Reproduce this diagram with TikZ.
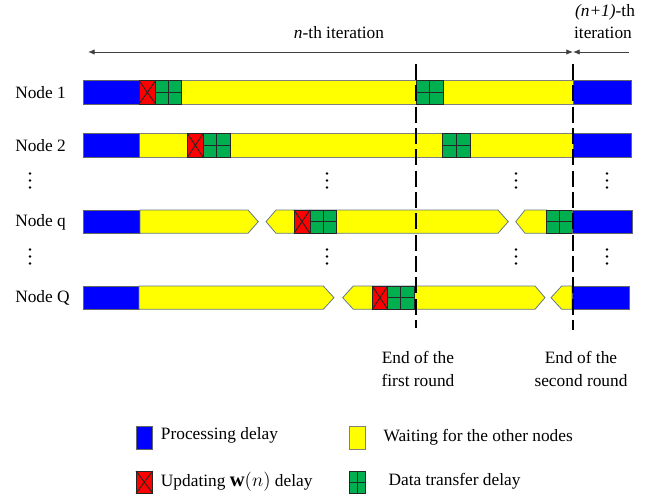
\documentclass[tikz,border=0pt]{standalone}
\usepackage{fontspec}
\setmainfont{Liberation Serif}
\usetikzlibrary{arrows.meta}
\definecolor{pblue}{RGB}{0,0,255}
\definecolor{pyellow}{RGB}{255,255,0}
\definecolor{pred}{RGB}{255,0,0}
\definecolor{pgreen}{RGB}{0,176,80}
\definecolor{pedge}{RGB}{100,120,140}
\newcommand{\DTblock}[4]{%
  \filldraw[dtstyle] (#1,#3) rectangle (#2,#4);
  \draw[blockline] ({(#1+#2)/2},#3) -- ({(#1+#2)/2},#4);
  \draw[blockline] (#1,{(#3+#4)/2}) -- (#2,{(#3+#4)/2});
}
\newcommand{\UPblock}[4]{%
  \filldraw[upstyle] (#1,#3) rectangle (#2,#4);
  \draw[blockline] (#1,#3) -- (#2,#4) (#1,#4) -- (#2,#3);
}
\tikzset{
  bluebar/.style={fill=pblue, draw=black!60, line width=0.6pt},
  ybar/.style={fill=pyellow, draw=black!50, line width=0.6pt},
  yarrow/.style={fill=pyellow, draw=pedge, line width=0.6pt},
  dtstyle/.style={fill=pgreen, draw=black!85, line width=0.7pt},
  upstyle/.style={fill=pred, draw=black!85, line width=0.7pt},
  blockline/.style={draw=black!85, line width=0.7pt},
  roundline/.style={draw=black, line width=1.3pt, dash pattern=on 12pt off 4pt},
  lbl/.style={inner sep=0pt, font=\fontsize{13}{17}\selectfont},
  iterarrow/.style={draw=black!75, line width=0.6pt},
  dotm/.style={fill=black}
}
\begin{document}
\begin{tikzpicture}[x=0.75pt,y=-0.75pt]
\useasboundingbox (0,0) rectangle (657,496);

% ---- Row 1 ----
\filldraw[ybar] (139,80.7) rectangle (573.3,104);
\filldraw[bluebar] (83,80.7) rectangle (139,104);
\UPblock{139}{155.7}{80.7}{104}
\DTblock{155.7}{181.7}{80.7}{104}
\DTblock{416}{443.3}{80.7}{104}
\filldraw[bluebar] (573.3,80.7) rectangle (631,104);

% ---- Row 2 ----
\filldraw[ybar] (139,133.3) rectangle (573.3,157.3);
\filldraw[bluebar] (83,133.3) rectangle (139,157.3);
\UPblock{187.3}{203.3}{133.3}{157.3}
\DTblock{203.3}{230}{133.3}{157.3}
\DTblock{442.7}{470}{133.3}{157.3}
\filldraw[bluebar] (573.3,133.3) rectangle (631,157.3);

% ---- Row q ----
\filldraw[bluebar] (83,210) rectangle (140,233.3);
\filldraw[yarrow] (140,210) -- (248,210) -- (258.3,221.65) -- (248,233.3) -- (140,233.3) -- cycle;
\filldraw[yarrow] (266,221.65) -- (276,210) -- (498,210) -- (508.3,221.65) -- (498,233.3) -- (276,233.3) -- cycle;
\UPblock{294}{310}{210}{233.3}
\DTblock{310}{336.7}{210}{233.3}
\filldraw[yarrow] (515.7,221.65) -- (525,210) -- (546.7,210) -- (546.7,233.3) -- (525,233.3) -- cycle;
\DTblock{546.7}{572.7}{210}{233.3}
\filldraw[bluebar] (572.7,210) rectangle (632.7,233.3);

% ---- Row Q ----
\filldraw[bluebar] (83,286) rectangle (139,309.3);
\filldraw[yarrow] (139,286) -- (323.3,286) -- (334,297.65) -- (323.3,309.3) -- (139,309.3) -- cycle;
\filldraw[yarrow] (342.7,297.65) -- (353.3,286) -- (535,286) -- (545,297.65) -- (535,309.3) -- (353.3,309.3) -- cycle;
\UPblock{372.3}{387.7}{286}{309.3}
\DTblock{387.7}{414}{286}{309.3}
\filldraw[yarrow] (551,297.65) -- (561.7,286) -- (572,286) -- (572,309.3) -- (561.7,309.3) -- cycle;
\filldraw[bluebar] (572,286) rectangle (629.3,309.3);

% ---- round boundaries ----
\coordinate (r1t) at (416,64);
\coordinate (r1b) at (416,328);
\coordinate (r2t) at (573,64);
\coordinate (r2b) at (573,330);
\draw[roundline] (r1t) -- (r1b);
\draw[roundline] (r2t) -- (r2b);

% ---- iteration arrows ----
\coordinate (aL) at (88,52);
\coordinate (aM) at (573,52);
\coordinate (aR) at (629,52);
\draw[iterarrow, {Latex[length=5pt,width=4pt]}-{Latex[length=5pt,width=4pt]}] (aL) -- (aM);
\draw[iterarrow, {Latex[length=5pt,width=4pt]}-] (aM) -- (aR);

% ---- dots ----
\foreach \dx in {30,327,516,607}{
  \foreach \dy in {173.5,180.5,187.5,249.5,256.5,263.5}{
    \fill[dotm] (\dx,\dy) circle (1.1pt);
  }
}

% ---- labels ----
\node[lbl, anchor=west] (n1) at (15,92.5) {Node 1};
\node[lbl, anchor=west] (n2) at (15,145.5) {Node 2};
\node[lbl, anchor=west] (nq) at (15,222) {Node q};
\node[lbl, anchor=west] (nQ) at (15,298) {Node Q};

\node[lbl] (itn) at (339,33) {\textit{n}-th iteration};
\node[lbl] (itn1a) at (605,12) {\textit{(n+1)}-th};
\node[lbl] (itn1b) at (603,33) {iteration};

\node[lbl, align=center] (end1) at (418,369) {End of the\\first round};
\node[lbl, align=center] (end2) at (581,369) {End of the\\second round};

% ---- legend ----
\filldraw[bluebar] (136,426) rectangle (152.7,449);
\node[lbl, anchor=west] (lg1) at (160.7,435.5) {Processing delay};
\filldraw[ybar] (349,426) rectangle (365.7,449);
\node[lbl, anchor=west] (lg2) at (383.3,437.5) {Waiting for the other nodes};
\UPblock{136}{152.7}{471}{493.3}
\node[lbl, anchor=west] (lg3) at (160.7,481.5) {Updating {\fontsize{15.5}{17}\selectfont$\mathbf{w}(n)$}\ delay};
\DTblock{349}{365.7}{471}{493.3}
\node[lbl, anchor=west] (lg4) at (388.3,481.5) {Data transfer delay};
\end{tikzpicture}
\end{document}
